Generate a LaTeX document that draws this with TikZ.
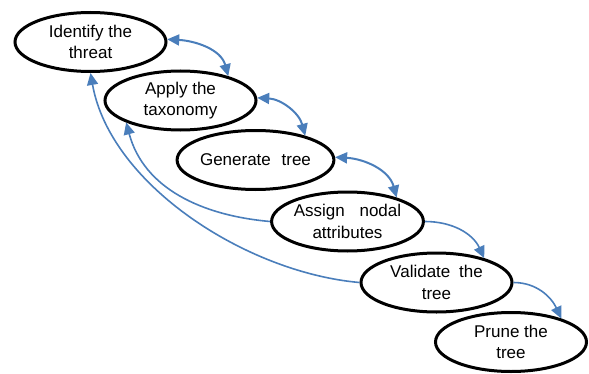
\documentclass[tikz,border=0pt]{standalone}
\usepackage{fontspec}
\setmainfont{Liberation Sans}
\usetikzlibrary{shapes.geometric,arrows.meta}
\definecolor{arrblue}{RGB}{74,126,187}
\begin{document}
\begin{tikzpicture}[x=1pt,y=1pt,
  stage/.style={ellipse,draw=black,line width=3pt,minimum width=151pt,minimum height=59pt,inner sep=0pt,align=center,font=\fontsize{17}{21.5}\selectfont},
  dbl/.style={draw=arrblue,line width=2pt,{Triangle[length=12pt,width=11pt]}-{Triangle[length=12pt,width=11pt]}},
  sgl/.style={draw=arrblue,line width=1.6pt,-{Triangle[length=12pt,width=11pt]}}]
\useasboundingbox (0,0) rectangle (589,373);
\node[stage] (e1) at (90.5,331) {Identify the\\threat};
\node[stage] (e2) at (180.5,272.5) {Apply the\\taxonomy};
\node[stage] (e3) at (255.5,213) {Generate\hspace{6pt} tree};
\node[stage] (e4) at (347.5,151.5) {Assign\hspace{10pt} nodal\\attributes};
\node[stage] (e5) at (436.5,90.5) {Validate\hspace{4pt} the\\tree};
\node[stage] (e6) at (511,31) {Prune the\\tree};
\draw[dbl] (e1.2) to[out=-3,in=105] (e2.27);
\draw[dbl] (e2.2) to[out=-3,in=105] (e3.26);
\draw[dbl] (e3.2) to[out=-3,in=105] (e4.26);
\draw[sgl] (e4.0) to[out=0,in=115] (e5.27);
\draw[sgl] (e5.0) to[out=0,in=115] (e6.25);
\draw[sgl] (e4.west) to[out=175,in=-75] (e2.202);
\draw[sgl] (e5.west) to[out=175,in=-80,looseness=0.85] (e1.south);
\end{tikzpicture}
\end{document}
